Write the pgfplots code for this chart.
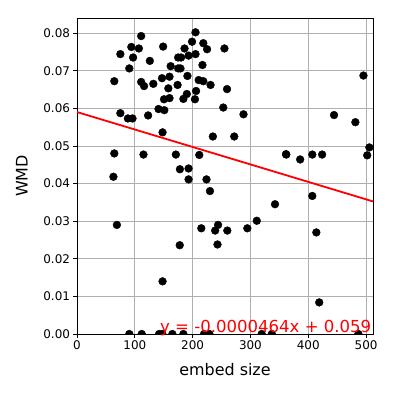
\documentclass[border=0pt]{standalone}
\usepackage{fontspec}
\setmainfont{DejaVu Sans}
\usepackage{pgfplots}
\pgfplotsset{compat=1.18}

\definecolor{gridgray}{RGB}{176,176,176}

\begin{document}
\begin{tikzpicture}
\path[use as bounding box] (-77bp,-59bp) rectangle (316bp,334bp);
\begin{axis}[
    scale only axis,
    width=296bp, height=316bp,
    xmin=0, xmax=512,
    ymin=0, ymax=0.084,
    xtick={0,100,...,500},
    ytick={0,0.01,...,0.08},
    grid=major,
    major grid style={gridgray, line width=0.8bp},
    axis line style={line width=0.8bp},
    tick style={black, line width=0.8bp},
    tick align=outside,
    major tick length=3.5bp,
    xtick pos=bottom, ytick pos=left,
    /pgf/number format/assume math mode=true,
    ticklabel style={font=\fontsize{12}{14}\selectfont},
    yticklabel style={/pgf/number format/.cd, fixed, fixed zerofill, precision=2},
    scaled y ticks=false,
    xlabel={embed size}, ylabel={WMD},
    label style={font=\fontsize{16}{19}\selectfont},
    xlabel style={yshift=-6bp},
    ylabel style={yshift=9bp},
    clip marker paths=true,
]
\addplot[only marks, mark=*, mark size=3.9bp, black] coordinates {
(111,0.0792) (75,0.0744) (94,0.0763) (107,0.0759) (97,0.0735) (149,0.0764)
(126,0.0726) (90.5,0.0706) (64.5,0.0672) (111,0.0670) (116,0.0659) (132,0.0665)
(147,0.0680) (160,0.0684) (162,0.0712) (175,0.0735) (175,0.0706) (158,0.0653)
(174,0.0662) (160,0.0627) (150.5,0.0624) (141,0.0598) (151,0.0595) (75,0.0587)
(88,0.0573) (96,0.0573) (123,0.0581)
(205,0.0802) (199,0.0777) (218.5,0.0773) (225,0.0757) (255,0.0759) (186,0.0759)
(205,0.0744) (193,0.0740) (180,0.0735) (217,0.0715) (179,0.0706) (191,0.0686)
(210.5,0.0675) (218.5,0.0672) (231,0.0662) (206,0.0646) (259.5,0.0651)
(190,0.0638) (184,0.0625) (204,0.0624) (253,0.0602) (288,0.0584)
(148,0.0536) (64.5,0.0480) (115,0.0477) (171,0.0477) (178,0.0438) (63,0.0418)
(69,0.0290)
(235,0.0525) (272,0.0525) (211.5,0.0476) (193,0.0440) (193,0.0411) (224,0.0411)
(230,0.0380) (361.5,0.0478) (342.5,0.0345) (311,0.0301)
(215,0.0281) (244,0.0290) (239,0.0275) (260,0.0275) (294.6,0.0281)
(243,0.0238) (177.7,0.0236) (148,0.0140)
(495.5,0.0687) (444.6,0.0582) (481.5,0.0563) (505.7,0.0496) (502,0.0475)
(362,0.0477) (386,0.0464) (407,0.0477) (424,0.0477) (407,0.0367) (414,0.0270)
(419,0.0084)
(90.5,0) (112,0) (142,0) (147.6,0) (165,0) (184,0) (219.7,0) (229,0)
(319.5,0) (337,0) (486.7,0)
};
\addplot[red, line width=1.8bp] coordinates {(0,0.059) (512,0.035243)};
\end{axis}
\node[anchor=base west, red, inner sep=0pt, font=\fontsize{16.6}{19}\selectfont]
  at (83bp,2bp) {y = -0.0000464x + 0.059};
\end{tikzpicture}
\end{document}
